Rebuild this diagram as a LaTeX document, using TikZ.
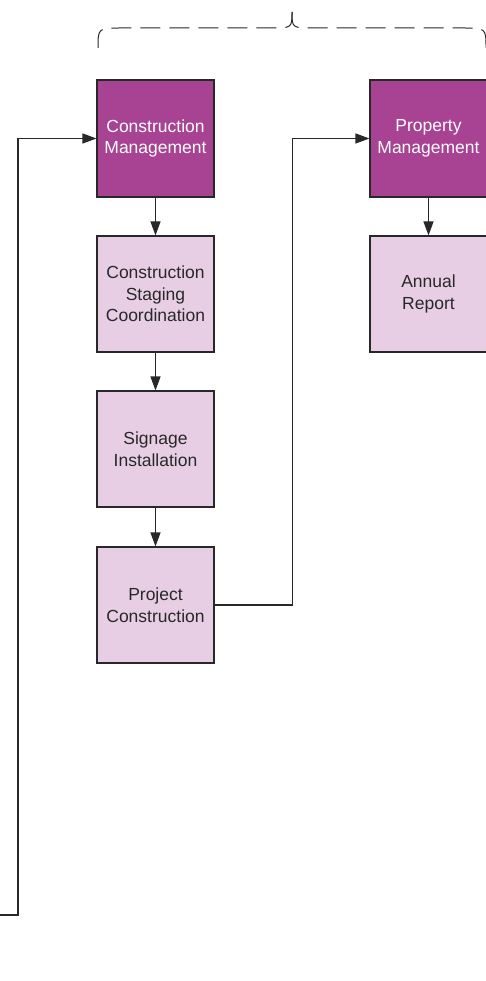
\documentclass[tikz,border=0pt]{standalone}
\usepackage{fontspec}
\setmainfont{Liberation Sans}
\usetikzlibrary{arrows.meta}
\definecolor{mgmt}{RGB}{168,66,146}
\definecolor{task}{RGB}{232,206,228}
\definecolor{ink}{RGB}{40,40,40}
\begin{document}
\begin{tikzpicture}[x=1pt, y=-1pt, line width=1.1pt,
  every node/.style={font=\fontsize{17.5}{21.5}\selectfont, align=center, inner sep=0pt},
  mgmtbox/.style={draw=ink, fill=mgmt, text=white, minimum width=117pt, minimum height=117pt},
  taskbox/.style={draw=ink, fill=task, text=ink, minimum width=117pt, minimum height=116pt},
  link/.style={draw=ink, -{Triangle[length=14pt,width=10pt]}}]
  \useasboundingbox (0,0) rectangle (486,981);
  % grouping brace
  \draw[ink, line width=1pt, dash pattern=on 20pt off 9pt]
    (98,48) .. controls (98,28) .. (122,28) -- (270,28) .. controls (292,28) .. (292,12);
  \draw[ink, line width=1pt, dash pattern=on 20pt off 9pt]
    (486,48) .. controls (486,28) .. (462,28) -- (314,28) .. controls (292,28) .. (292,12);
  % left column
  \node[mgmtbox] (cm) at (155.5,138.5) {Construction\\Management};
  \node[taskbox] (csc) at (155.5,294) {Construction\\Staging\\Coordination};
  \node[taskbox] (si) at (155.5,449) {Signage\\Installation};
  \node[taskbox] (pc) at (155.5,605) {Project\\Construction};
  % right column
  \node[mgmtbox] (pm) at (428.5,138.5) {Property\\Management};
  \node[taskbox] (ar) at (428.5,294) {Annual\\Report};
  \coordinate (feed) at (-2,915);
  \draw[link] (cm) -- (csc);
  \draw[link] (csc) -- (si);
  \draw[link] (si) -- (pc);
  \draw[link] (pm) -- (ar);
  \draw[link] (pc.east) -- ++(78,0) |- (pm.west);
  \draw[link] (feed) -- ++(20,0) |- (cm.west);
\end{tikzpicture}
\end{document}
